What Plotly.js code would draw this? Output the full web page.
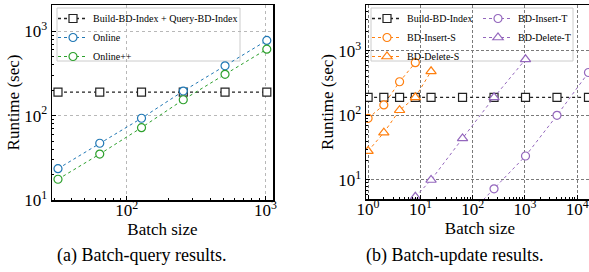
<!DOCTYPE html>
<html><head><meta charset="utf-8">
<script src="https://cdn.plot.ly/plotly-3.0.1.min.js"></script>
<style>html,body{margin:0;padding:0;overflow:hidden;background:#fff}#chart{width:600px;height:272px}</style>
</head><body><div id="chart"></div><script>
// ---- (a) Batch-query data ----
const querySizes = [32, 64, 128, 256, 512, 1024];
const buildQueryIndex = [190, 190, 190, 190, 190, 190];
const online = [23.5, 47, 93, 195, 389, 776];
const onlinePP = [17.6, 35, 72, 154, 308, 612];

// ---- (b) Batch-update data ----
const updateSizes = [1, 2, 4, 8, 16, 64, 256, 1024, 4096, 16384];
const buildIndex = [190, 190, 190, 190, 190, 190, 190, 190, 190, 190];
const insertSSizes = [1, 2, 4, 8];
const insertS = [90, 145, 331, 652];
const deleteSSizes = [1, 2, 4, 8, 16];
const deleteS = [28, 54, 120, 190, 480];
const insertTSizes = [64, 256, 1024, 4096, 16384];
const insertT = [2.3, 7.3, 23.5, 100, 460];
const deleteTSizes = [8, 16, 64, 256, 1024];
const deleteT = [5.5, 10, 44, 190, 736];

// ---- tick labels ----
const xTicksA = [100, 1000];
const xLabelsA = ['10<sup>2</sup>', '10<sup>3</sup>'];
const yTicksA = [10, 100, 1000];
const yLabelsA = ['10<sup>1</sup>', '10<sup>2</sup>', '10<sup>3</sup>'];
const xTicksB = [1, 10, 100, 1000, 10000];
const xLabelsB = ['10<sup>0</sup>', '10<sup>1</sup>', '10<sup>2</sup>', '10<sup>3</sup>', '10<sup>4</sup>'];
const yTicksB = [10, 100, 1000];
const yLabelsB = ['10<sup>1</sup>', '10<sup>2</sup>', '10<sup>3</sup>'];

const captionA = '(a) Batch-query results.';
const captionB = '(b) Batch-update results.';

function minorTicks(lo, hi) {
  const out = [];
  for (let e = lo; e <= hi; e++) for (let m = 2; m <= 9; m++) out.push(m * Math.pow(10, e));
  return out;
}

const W = 600, H = 272;
const FONT = 'Liberation Serif, Times New Roman, serif';
const C = {blue: '#1f77b4', green: '#2ca02c', orange: '#ff7f0e', purple: '#9467bd', black: '#222222'};

function tr(x, y, name, color, symbol, xa, ya, legend, lw) {
  return {
    x: x, y: y, name: name, type: 'scatter', mode: 'lines+markers',
    xaxis: xa, yaxis: ya, legend: legend,
    line: {color: color, width: lw || 1, dash: 'dot'},
    marker: {symbol: symbol, size: symbol === 'triangle-up' ? 9 : 8, color: 'white', line: {color: color, width: 1.2}},
    cliponaxis: true
  };
}

const data = [
  tr(querySizes, buildQueryIndex, 'Build-BD-Index + Query-BD-Index', C.black, 'square', 'x', 'y', 'legend', 1.3),
  tr(querySizes, online, 'Online', C.blue, 'circle', 'x', 'y', 'legend'),
  tr(querySizes, onlinePP, 'Online++', C.green, 'circle', 'x', 'y', 'legend'),
  tr(updateSizes, buildIndex, 'Build-BD-Index', C.black, 'square', 'x2', 'y2', 'legend2', 1.3),
  tr(insertSSizes, insertS, 'BD-Insert-S', C.orange, 'circle', 'x2', 'y2', 'legend2'),
  tr(deleteSSizes, deleteS, 'BD-Delete-S', C.orange, 'triangle-up', 'x2', 'y2', 'legend2'),
  tr(insertTSizes, insertT, 'BD-Insert-T', C.purple, 'circle', 'x2', 'y2', 'legend3'),
  tr(deleteTSizes, deleteT, 'BD-Delete-T', C.purple, 'triangle-up', 'x2', 'y2', 'legend3')
];

function axis(extra) {
  return Object.assign({
    type: 'log', showline: true, mirror: true, linecolor: 'black', linewidth: 1.5,
    ticks: 'inside', ticklen: 4, tickcolor: 'black', tickwidth: 1,
    tickmode: 'array', tickfont: {family: FONT, size: 17, color: 'black'},
    showgrid: true, gridwidth: 1, zeroline: false
  }, extra);
}

const legendFont = {family: FONT, size: 10, color: 'black'};
function legendAt(px) {
  return {x: px / W, y: (H - 4) / H, xanchor: 'left', yanchor: 'top',
    bgcolor: 'rgba(0,0,0,0)', borderwidth: 0, font: legendFont, tracegroupgap: 0};
}
function box(x0, x1, y0, y1) {
  return {type: 'rect', xref: 'paper', yref: 'paper', layer: 'between',
    x0: x0 / W, x1: x1 / W, y0: (H - y1) / H, y1: (H - y0) / H,
    line: {color: '#cccccc', width: 1}, fillcolor: 'rgba(255,255,255,0.85)'};
}

const layout = {
  width: W, height: H,
  margin: {l: 0, r: 0, t: 0, b: 0},
  paper_bgcolor: 'white', plot_bgcolor: 'white',
  font: {family: FONT, color: 'black'},
  showlegend: true,
  xaxis: axis({domain: [52 / W, 273 / W], anchor: 'y', range: [1.462, 3.055],
    tickvals: xTicksA, ticktext: xLabelsA, gridcolor: '#b8b8b8', griddash: 'dot', ticklabelstandoff: -6,
    minor: {tickvals: minorTicks(1, 3), ticks: 'inside', ticklen: 2, tickcolor: 'black', showgrid: false},
    title: {text: 'Batch size', font: {family: FONT, size: 17}, standoff: 0}}),
  yaxis: axis({domain: [72 / H, 267 / H], anchor: 'x', range: [1, 3.31],
    tickvals: yTicksA, ticktext: yLabelsA, gridcolor: '#b8b8b8', griddash: 'dot',
    minor: {tickvals: minorTicks(1, 3), ticks: 'inside', ticklen: 2, tickcolor: 'black', showgrid: false},
    title: {text: 'Runtime (sec)', font: {family: FONT, size: 17}, standoff: 0}}),
  xaxis2: axis({domain: [366 / W, 594 / W], anchor: 'y2', range: [-0.04, 4.32],
    tickvals: xTicksB, ticktext: xLabelsB, gridcolor: '#7a7a7a', griddash: '3px,2px', ticklabelstandoff: -6,
    minor: {tickvals: minorTicks(0, 4), ticks: 'inside', ticklen: 2, tickcolor: 'black', showgrid: false},
    title: {text: 'Batch size', font: {family: FONT, size: 17}, standoff: 0}}),
  yaxis2: axis({domain: [73 / H, 267 / H], anchor: 'x2', range: [0.706, 3.707],
    tickvals: yTicksB, ticktext: yLabelsB, gridcolor: '#7a7a7a', griddash: '3px,2px',
    minor: {tickvals: minorTicks(0, 3), ticks: 'inside', ticklen: 2, tickcolor: 'black', showgrid: false},
    title: {text: 'Runtime (sec)', font: {family: FONT, size: 17}, standoff: 0}}),
  legend: legendAt(53),
  legend2: legendAt(367),
  legend3: legendAt(478),
  shapes: [box(57, 240, 8, 61), box(371, 573, 8, 61)],
  annotations: [
    {text: captionA, xref: 'paper', yref: 'paper', x: 141 / W, y: (H - 255) / H,
     xanchor: 'center', yanchor: 'middle', showarrow: false, font: {family: FONT, size: 18, color: 'black'}},
    {text: captionB, xref: 'paper', yref: 'paper', x: 454 / W, y: (H - 255) / H,
     xanchor: 'center', yanchor: 'middle', showarrow: false, font: {family: FONT, size: 18, color: 'black'}}
  ]
};

Plotly.newPlot('chart', data, layout, {displayModeBar: false, staticPlot: true});
</script></body></html>
